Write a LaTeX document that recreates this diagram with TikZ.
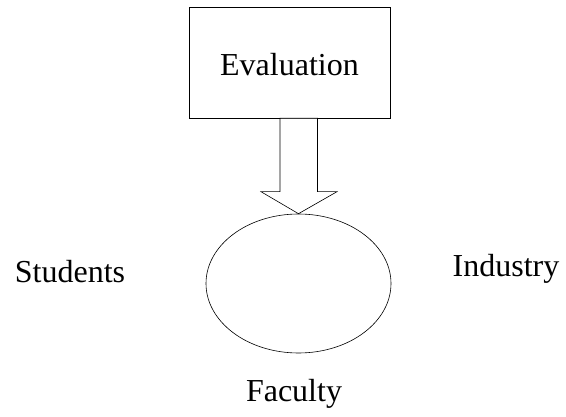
\documentclass[tikz,border=0pt]{standalone}
\usepackage{fontspec}
\setmainfont{Liberation Serif}
\usetikzlibrary{shapes.geometric,calc}
\begin{document}
\begin{tikzpicture}[x=1pt,y=-1pt,
  lbl/.style={font=\fontsize{32}{38}\selectfont, inner sep=0pt, anchor=base},
  boxnode/.style={draw, line width=0.6pt, minimum width=201pt, minimum height=111pt, inner sep=0pt,
    font=\fontsize{32}{38}\selectfont, text height=27pt, text depth=0pt},
  ellnode/.style={draw, ellipse, line width=0.6pt, minimum width=185pt, minimum height=139pt, inner sep=0pt},
  blockarrow/.style={draw, line width=0.6pt, line join=miter, fill=white}]
\useasboundingbox (0,0) rectangle (566,417);
\node[boxnode] (eval) at (289.5,62.5) {Evaluation};
\node[ellnode] (hub) at (298.5,283.5) {};
\coordinate (tip) at (hub.north);
\coordinate (top) at (tip |- eval.south);
\draw[blockarrow] (tip) -- ($(tip)+(-37.5,-22)$) -- ($(tip)+(-18.5,-22)$)
  -- ($(top)+(-18.5,0)$) -- ($(top)+(19,0)$)
  -- ($(tip)+(19,-22)$) -- ($(tip)+(38.5,-22)$) -- cycle;
\node[lbl] (students) at (70,283) {Students};
\node[lbl] (industry) at (506,277) {Industry};
\node[lbl] (faculty) at (294,402) {Faculty};
\end{tikzpicture}
\end{document}
